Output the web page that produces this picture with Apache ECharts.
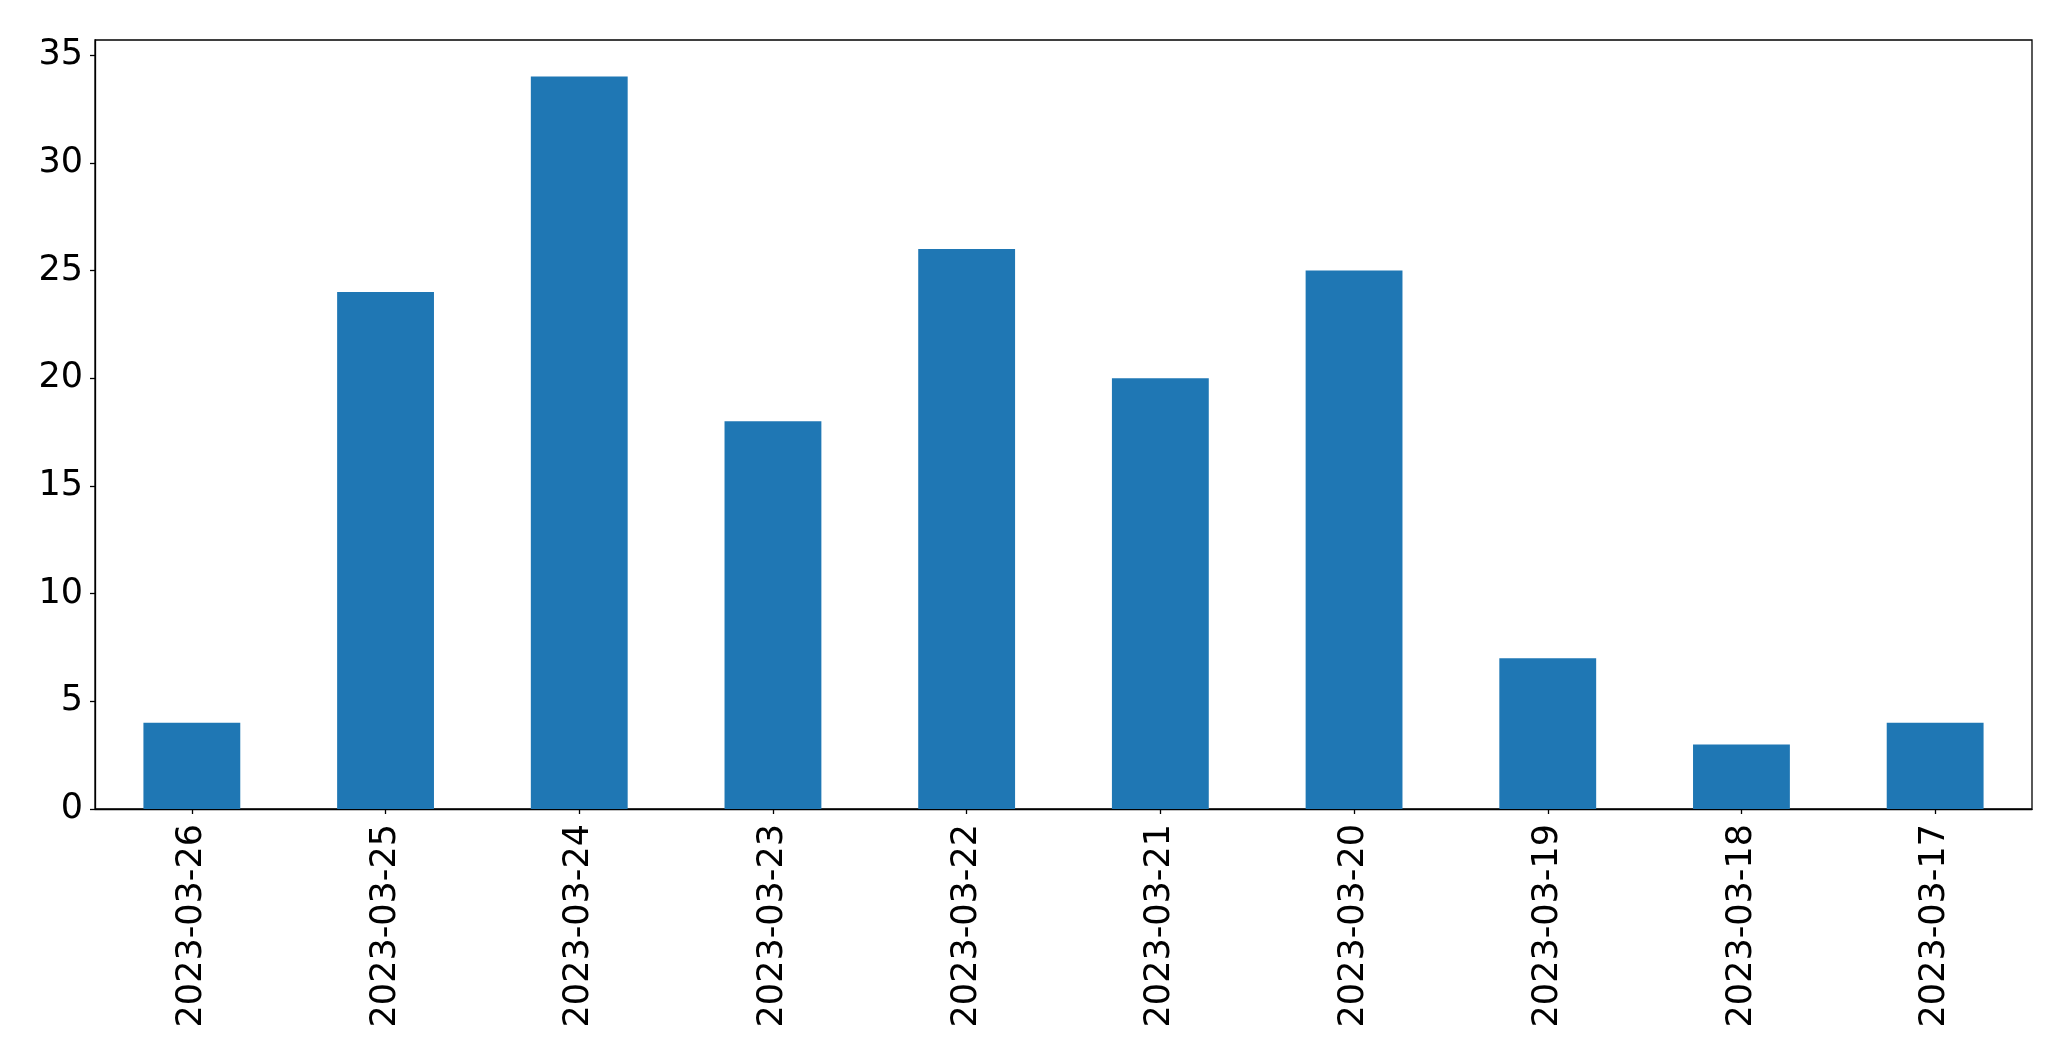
<!DOCTYPE html>
<html>
<head>
<meta charset="utf-8">
<script src="https://cdn.jsdelivr.net/npm/echarts@6/dist/echarts.min.js"></script>
<style>
  html, body { margin: 0; padding: 0; background: #fff; }
  #chart { width: 2071px; height: 1061px; }
</style>
</head>
<body>
<div id="chart"></div>
<script>
// 数据
const dates = ['2023-03-26', '2023-03-25', '2023-03-24', '2023-03-23', '2023-03-22',
               '2023-03-21', '2023-03-20', '2023-03-19', '2023-03-18', '2023-03-17'];
const counts = [4, 24, 34, 18, 26, 20, 25, 7, 3, 4];
const yTicks = [0, 5, 10, 15, 20, 25, 30, 35];

const myChart = echarts.init(document.getElementById('chart'));

const labelFont = {
  color: '#000',
  fontFamily: 'DejaVu Sans',
  fontSize: 35
};

let option = {
  animation: false,
  grid: {
    left: 95,
    right: 39,
    top: 40,
    bottom: 252,
    show: true,
    borderColor: '#000',
    borderWidth: 1.3,
    containLabel: false
  },
  xAxis: {
    type: 'category',
    data: dates,
    axisLine: { show: true, lineStyle: { color: '#000', width: 1.3 } },
    axisTick: { show: true, alignWithLabel: true, length: 5, lineStyle: { color: '#000', width: 1.3 } },
    axisLabel: Object.assign({ rotate: 90, margin: 15, interval: 0 }, labelFont),
    splitLine: { show: false }
  },
  yAxis: {
    type: 'value',
    min: 0,
    max: 35.7,
    interval: 5,
    axisLine: { show: true, lineStyle: { color: '#000', width: 1.3 } },
    axisTick: { show: true, length: 5, customValues: yTicks, lineStyle: { color: '#000', width: 1.3 } },
    axisLabel: Object.assign({ margin: 12, customValues: yTicks }, labelFont),
    splitLine: { show: false }
  },
  series: [
    {
      type: 'bar',
      data: counts,
      barWidth: '50%',
      itemStyle: { color: '#1f77b4' }
    }
  ]
};

myChart.setOption(option);
</script>
</body>
</html>
